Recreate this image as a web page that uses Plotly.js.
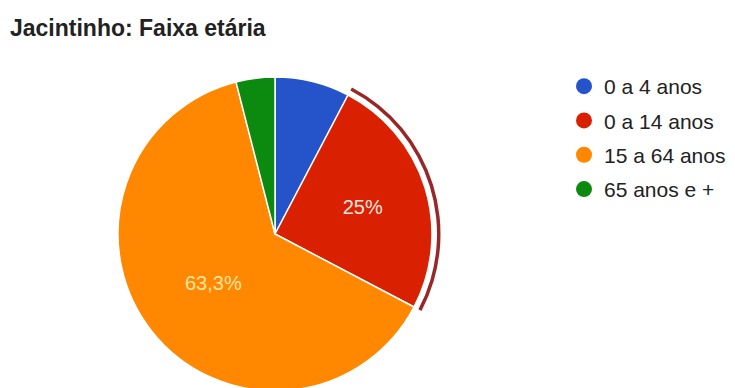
<!DOCTYPE html>
<html>
<head>
<meta charset="utf-8">
<script src="https://cdn.plot.ly/plotly-3.0.1.min.js"></script>
<style>
  html, body { margin: 0; padding: 0; background: #fff; overflow: hidden; }
  #chart { width: 735px; height: 420px; }
</style>
</head>
<body>
<div id="chart"></div>
<script>
// ---- data ----
const categories = ['0 a 4 anos', '0 a 14 anos', '15 a 64 anos', '65 anos e +'];
const shares = [7.7, 25.0, 63.3, 4.0];
const sliceLabels = ['', '25%', '63,3%', ''];
const sliceColors = ['#2553c9', '#d92000', '#ff8800', '#0c8a10'];
const labelColors = ['#ffffff', '#fbe6e0', '#fbe3a0', '#ffffff'];
const highlighted = 1;
const chartTitle = 'Jacintinho: Faixa etária';

// ---- geometry (layout only) ----
const W = 735, H = 420;
const cx = 275, cy = 234, R = 157;
const ringOuter = 165.5, ringInner = 162;
function dom(r) {
  return {
    x: [(cx - r) / W, (cx + r) / W],
    y: [(H - cy - r) / H, (H - cy + r) / H]
  };
}

const traces = [];
traces.push({
  type: 'pie',
  labels: categories,
  values: shares,
  text: sliceLabels,
  textinfo: 'text',
  textposition: 'inside',
  insidetextorientation: 'horizontal',
  textfont: { family: 'Arial, Liberation Sans, sans-serif', size: 20, color: labelColors },
  sort: false,
  direction: 'clockwise',
  rotation: 0,
  marker: { colors: sliceColors, line: { color: '#ffffff', width: 1.5 } },
  domain: dom(R),
  showlegend: false,
  hoverinfo: 'skip'
});
traces.push({
  type: 'pie',
  labels: categories,
  values: shares,
  textinfo: 'none',
  sort: false,
  direction: 'clockwise',
  rotation: 0,
  hole: ringInner / ringOuter,
  marker: {
    colors: categories.map((c, i) => i === highlighted ? '#982828' : 'rgba(0,0,0,0)'),
    line: { width: 0 }
  },
  domain: dom(ringOuter),
  showlegend: false,
  hoverinfo: 'skip'
});
categories.forEach((c, i) => {
  traces.push({
    type: 'scatter',
    mode: 'markers',
    x: [null], y: [null],
    name: c,
    legendgroup: 'g' + i,
    marker: { color: sliceColors[i], size: 16, symbol: 'circle' },
    showlegend: true,
    hoverinfo: 'skip'
  });
});

const layout = {
  width: W, height: H,
  margin: { l: 0, r: 0, t: 0, b: 0 },
  paper_bgcolor: '#ffffff',
  plot_bgcolor: '#ffffff',
  xaxis: { visible: false },
  yaxis: { visible: false },
  title: {
    text: chartTitle,
    font: { family: 'Arial, Liberation Sans, sans-serif', size: 23, weight: 'bold', color: '#222222' },
    xref: 'paper', yref: 'container',
    x: 10 / W, xanchor: 'left',
    y: 1 - 28 / H, yanchor: 'middle'
  },
  legend: {
    x: 564 / W, xanchor: 'left',
    y: 1 - 66 / H, yanchor: 'top',
    font: { family: 'Arial, Liberation Sans, sans-serif', size: 21, color: '#222222' },
    tracegroupgap: 4,
    itemsizing: 'trace',
    bgcolor: 'rgba(0,0,0,0)'
  },
  showlegend: true
};

Plotly.newPlot('chart', traces, layout, { staticPlot: true, displayModeBar: false });
</script>
</body>
</html>
